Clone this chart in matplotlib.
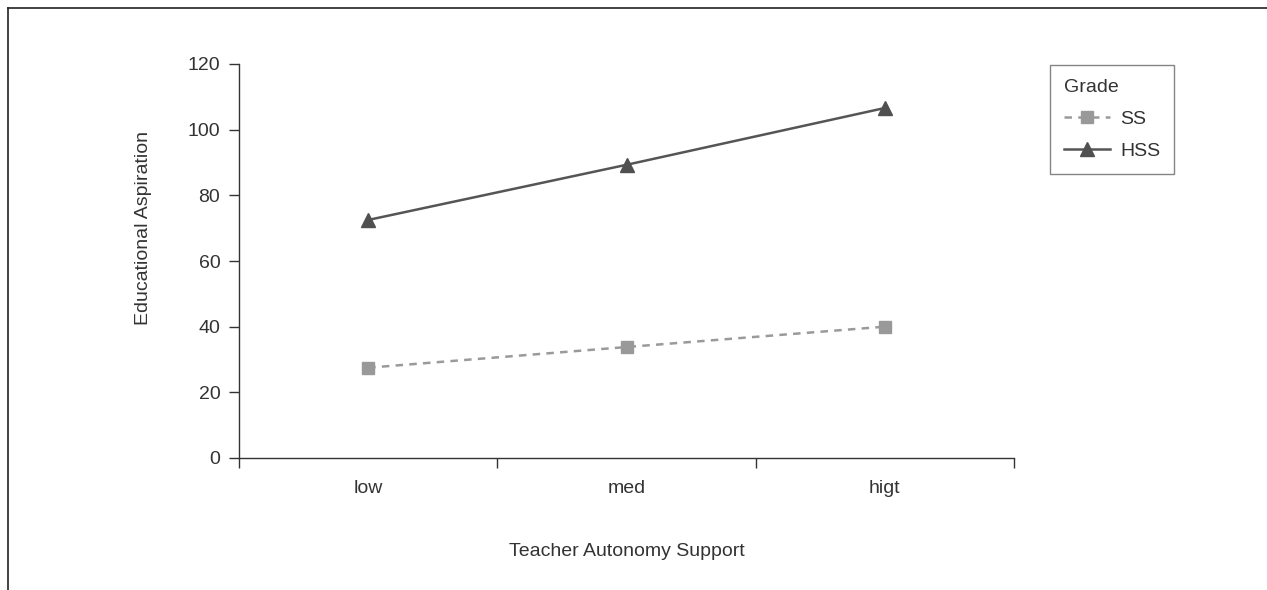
import numpy as np
import matplotlib.pyplot as plt
from matplotlib.lines import Line2D

plt.rcParams['font.family'] = ['Liberation Sans', 'DejaVu Sans']

# data
categories = ["low", "med", "higt"]
ss = [27.5, 33.8, 40.0]
hss = [72.5, 89.3, 106.6]

fs = 14

fig = plt.figure(figsize=(12.67, 5.90), dpi=100)
ax = fig.add_axes([239/1267, 1 - 458/590, 775/1267, 394/590])

x = np.arange(len(categories))
ax.plot(x, ss, color="#9a9a9a", lw=1.8, ls=(0, (3, 2.5)), marker="s",
        markersize=9, markerfacecolor="#999999", markeredgecolor="#999999", label="SS")
ax.plot(x, hss, color="#555555", lw=1.8, marker="^",
        markersize=10, markerfacecolor="#505050", markeredgecolor="#505050", label="HSS")

ax.set_xlim(-0.5, 2.5)
ax.set_ylim(0, 120)
ax.set_yticks(np.arange(0, 121, 20))
ax.set_xticks([-0.5, 0.5, 1.5, 2.5])
ax.set_xticklabels([])
ax.set_xticks(x, minor=True)
ax.set_xticklabels(categories, minor=True)
ax.tick_params(axis="x", which="minor", length=0, pad=16, labelsize=fs, labelcolor="#333333")
ax.tick_params(axis="x", which="major", length=7.5, width=1.0, direction="out", color="#333333")
ax.tick_params(axis="y", length=7.5, width=1.0, direction="out", color="#333333",
               labelsize=fs, labelcolor="#333333", pad=6)

for s in ["top", "right"]:
    ax.spines[s].set_visible(False)
for s in ["left", "bottom"]:
    ax.spines[s].set_color("#333333")
    ax.spines[s].set_linewidth(1.0)

ax.set_xlabel("Teacher Autonomy Support", fontsize=fs, color="#333333", va="center")
ax.xaxis.set_label_coords(0.5, (458 - 551) / 394)
ax.set_ylabel("Educational Aspiration", fontsize=fs, color="#333333", va="center")
ax.yaxis.set_label_coords((143 - 239) / 775, (458 - 228) / 394)

leg = fig.legend(loc="upper left", bbox_to_anchor=(1050/1267, 1 - 65/590),
                 title="Grade", fontsize=fs, title_fontsize=fs, frameon=True,
                 fancybox=False, edgecolor="#666666", handlelength=2.4,
                 borderpad=0.7, labelspacing=0.75, handletextpad=0.5,
                 borderaxespad=0)
leg._legend_box.align = "left"
leg.get_frame().set_linewidth(1.0)
for t in leg.get_texts():
    t.set_color("#333333")
leg.get_title().set_color("#333333")

# outer frame (top and left edges)
fig.add_artist(Line2D([8/1267, 1], [1 - 8/590, 1 - 8/590], color="#222222", lw=1.2))
fig.add_artist(Line2D([8/1267, 8/1267], [0, 1 - 8/590], color="#222222", lw=1.2))

fig.savefig("out.png", dpi=100)
